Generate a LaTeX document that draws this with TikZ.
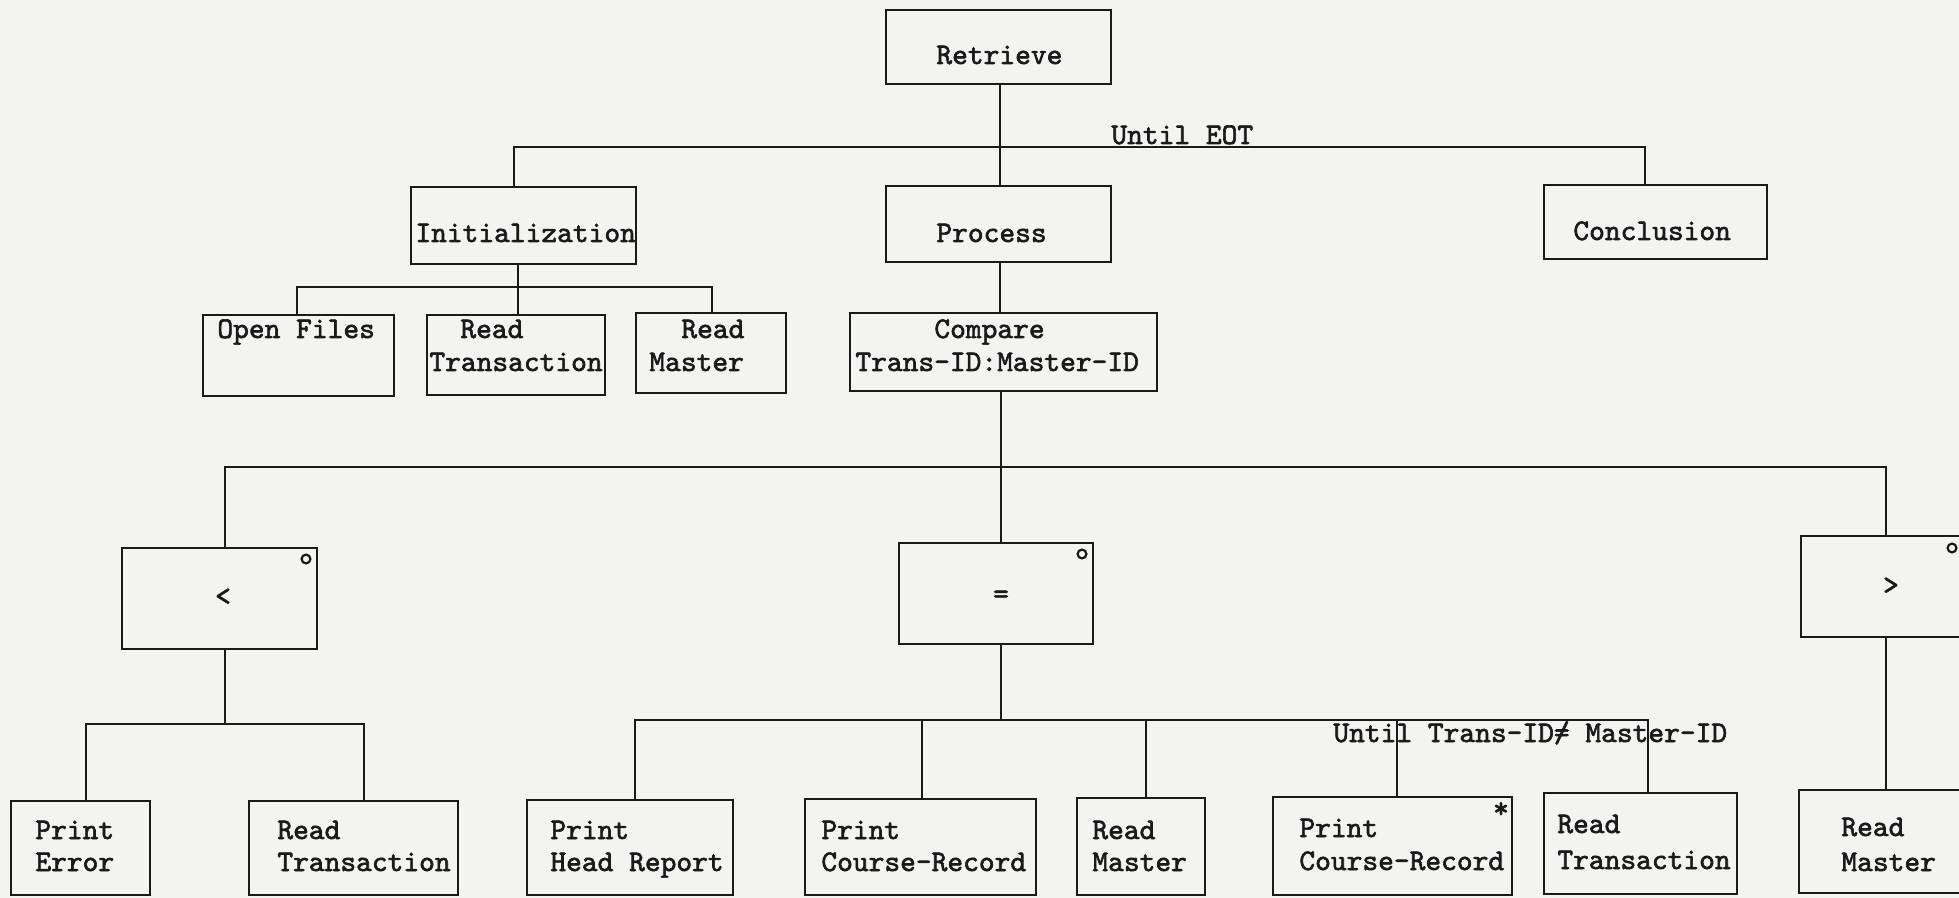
\documentclass[tikz,border=0pt]{standalone}
\usepackage{fontspec}
\newfontfamily\tw[FakeBold=2]{lmmono10-regular.otf}
\definecolor{ink}{RGB}{26,26,26}
\definecolor{paper}{RGB}{243,243,241}

% a box given by its corners (x1,y1) (x2,y2) in picture units
\newcommand\putbox[5]{%
  \node[blk, minimum width={(#4-#2)*0.5pt}, minimum height={(#5-#3)*0.5pt}]
    (#1) at ({(#2+#4)/2},{(#3+#5)/2}) {};}
% typed "not equal": an equals sign struck through with a slash
\newcommand\typedne{\rlap{=}/}

\begin{document}
\begin{tikzpicture}[x=0.5pt,y=-0.5pt,
  blk/.style={rectangle, draw=ink, line width=1.3pt, inner sep=0pt, outer sep=0pt},
  wire/.style={draw=ink, line width=1.15pt},
  txt/.style={font=\fontsize{15}{18}\tw, text=ink, inner sep=0pt, anchor=base west},
  sym/.style={font=\fontsize{15}{18}\tw, text=ink, inner sep=0pt},
  ring/.style={circle, draw=ink, line width=1.1pt, inner sep=0pt, minimum size=4.4pt}]
\fill[paper] (0,0) rectangle (1959,898);
\useasboundingbox (0,0) rectangle (1959,898);

% boxes
\putbox{ret}{886}{10}{1111}{84}
\putbox{init}{411}{187}{636}{264}
\putbox{proc}{886}{186}{1111}{262}
\putbox{conc}{1544}{185}{1767}{259}
\putbox{open}{203}{315}{394}{396}
\putbox{rtI}{427}{315}{605}{395}
\putbox{rmI}{636}{313}{786}{393}
\putbox{cmp}{850}{313}{1157}{391}
\putbox{lt}{122}{548}{317}{649}
\putbox{eq}{899}{543}{1093}{644}
\putbox{gt}{1801}{536}{1975}{637}
\putbox{pe}{11}{801}{150}{895}
\putbox{rtL}{249}{801}{458}{895}
\putbox{phr}{527}{800}{733}{895}
\putbox{pcrA}{805}{799}{1036}{895}
\putbox{rmA}{1077}{798}{1205}{895}
\putbox{pcrB}{1273}{797}{1512}{895}
\putbox{rtB}{1544}{793}{1737}{894}
\putbox{rmB}{1799}{790}{1975}{893}

% bus taps
\coordinate (tI) at (514,147);
\coordinate (tM) at (1000,147);
\coordinate (tC) at (1645,147);
\coordinate (iL) at (297,287);
\coordinate (iM) at (518,287);
\coordinate (iR) at (712,287);
\coordinate (bL) at (225,467);
\coordinate (bM) at (1001,467);
\coordinate (bR) at (1886,467);
\coordinate (lL) at (86,724);
\coordinate (lM) at (225,724);
\coordinate (lR) at (364,724);
\coordinate (e1) at (635,720);
\coordinate (e2) at (922,720);
\coordinate (eM) at (1001,720);
\coordinate (e3) at (1146,720);
\coordinate (e4) at (1397,720);
\coordinate (e5) at (1648,720);

% connectors
\draw[wire] (tM |- ret.south) -- (tM |- proc.north);
\draw[wire] (tI |- init.north) -- (tI) -- (tC) -- (tC |- conc.north);
\draw[wire] (iM |- init.south) -- (iM |- rtI.north);
\draw[wire] (iL |- open.north) -- (iL) -- (iR) -- (iR |- rmI.north);
\draw[wire] (tM |- proc.south) -- (tM |- cmp.north);
\draw[wire] (bM |- cmp.south) -- (bM |- eq.north);
\draw[wire] (bL |- lt.north) -- (bL) -- (bR) -- (bR |- gt.north);
\draw[wire] (lM |- lt.south) -- (lM);
\draw[wire] (lL |- pe.north) -- (lL) -- (lR) -- (lR |- rtL.north);
\draw[wire] (eM |- eq.south) -- (eM);
\draw[wire] (e1 |- phr.north) -- (e1) -- (e5) -- (e5 |- rtB.north);
\draw[wire] (e2) -- (e2 |- pcrA.north);
\draw[wire] (e3) -- (e3 |- rmA.north);
\draw[wire] (e4) -- (e4 |- pcrB.north);
\draw[wire] (bR |- gt.south) -- (bR |- rmB.north);

% box texts
\node[txt] (retT) at (936,64) {Retrieve};
\node[txt] (untilA) at (1111,144) {Until EOT};
\node[txt] (initT) at (415,242) {Initialization};
\node[txt] (procT) at (936,242) {Process};
\node[txt] (concT) at (1573,240) {Conclusion};
\node[txt] (openT) at (217,338) {Open Files};
\node[txt] (rtIa) at (460,338) {Read};
\node[txt] (rtIb) at (429,371) {Transaction};
\node[txt] (rmIa) at (681,338) {Read};
\node[txt] (rmIb) at (649,371) {Master};
\node[txt] (cmpA) at (934,338) {Compare};
\node[txt] (cmpB) at (855,371) {Trans-ID:Master-ID};

\node[sym] (ltT) at (223,597) {<};
\node[sym] (eqT) at (1001,597) {=};
\node[sym] (gtT) at (1891,586) {>};
\node[ring] (ltO) at (306,559) {};
\node[ring] (eqO) at (1082,554) {};
\node[ring] (gtO) at (1952,548) {};

\node[txt] (untilB) at (1333,742) {Until Trans-ID\typedne{} Master-ID};

\node[txt] (peA) at (35,839) {Print};
\node[txt] (peB) at (35,871) {Error};
\node[txt] (rtLa) at (277,839) {Read};
\node[txt] (rtLb) at (277,871) {Transaction};
\node[txt] (phrA) at (550,839) {Print};
\node[txt] (phrB) at (550,871) {Head Report};
\node[txt] (pcrAa) at (821,839) {Print};
\node[txt] (pcrAb) at (821,871) {Course-Record};
\node[txt] (rmAa) at (1092,839) {Read};
\node[txt] (rmAb) at (1092,871) {Master};
\node[txt] (pcrBa) at (1299,837) {Print};
\node[txt] (pcrBb) at (1299,870) {Course-Record};
\node[sym] (star) at (1501,810) {*};
\node[txt] (rtBa) at (1557,833) {Read};
\node[txt] (rtBb) at (1557,869) {Transaction};
\node[txt] (rmBa) at (1841,836) {Read};
\node[txt] (rmBb) at (1841,871) {Master};
\end{tikzpicture}
\end{document}
